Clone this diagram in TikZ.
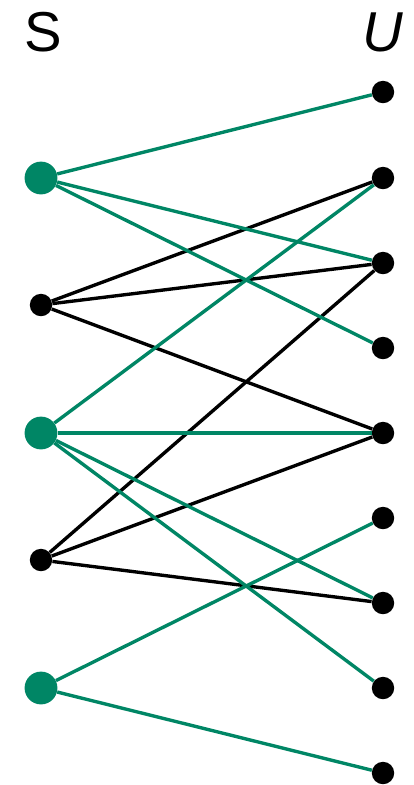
\documentclass[tikz,border=0pt]{standalone}
\usepackage{fontspec}
\setmainfont{Liberation Sans}
\definecolor{tealgreen}{RGB}{0,134,101}
\begin{document}
\begin{tikzpicture}[x=0.025cm, y=-0.025cm,
  snode/.style={circle, fill=tealgreen, inner sep=0pt, minimum size=0.82cm},
  bnode/.style={circle, fill=black, inner sep=0pt, minimum size=0.56cm},
  gedge/.style={line width=2.4pt, tealgreen},
  kedge/.style={line width=2.4pt, black},
  lbl/.style={font=\fontsize{40}{44}\selectfont, inner sep=0pt}]
\useasboundingbox (0,0) rectangle (414,785);
% headings
\node[lbl] (hs) at (43,32) {S};
\node[lbl] (hu) at (383,32) {\itshape U};
% left column
\node[snode] (s1) at (41,178) {};
\node[bnode] (s2) at (41,305) {};
\node[snode] (s3) at (41,433) {};
\node[bnode] (s4) at (41,560) {};
\node[snode] (s5) at (41,688) {};
% right column
\node[bnode] (u1) at (383,92) {};
\node[bnode] (u2) at (383,178) {};
\node[bnode] (u3) at (383,263) {};
\node[bnode] (u4) at (383,348) {};
\node[bnode] (u5) at (383,433) {};
\node[bnode] (u6) at (383,518) {};
\node[bnode] (u7) at (383,603) {};
\node[bnode] (u8) at (383,688) {};
\node[bnode] (u9) at (383,773) {};
% black edges
\draw[kedge] (s2) -- (u2);
\draw[kedge] (s2) -- (u3);
\draw[kedge] (s2) -- (u5);
\draw[kedge] (s4) -- (u3);
\draw[kedge] (s4) -- (u5);
\draw[kedge] (s4) -- (u7);
% green edges
\draw[gedge] (s1) -- (u1);
\draw[gedge] (s1) -- (u3);
\draw[gedge] (s1) -- (u4);
\draw[gedge] (s3) -- (u2);
\draw[gedge] (s3) -- (u5);
\draw[gedge] (s3) -- (u7);
\draw[gedge] (s3) -- (u8);
\draw[gedge] (s5) -- (u6);
\draw[gedge] (s5) -- (u9);
\end{tikzpicture}
\end{document}
